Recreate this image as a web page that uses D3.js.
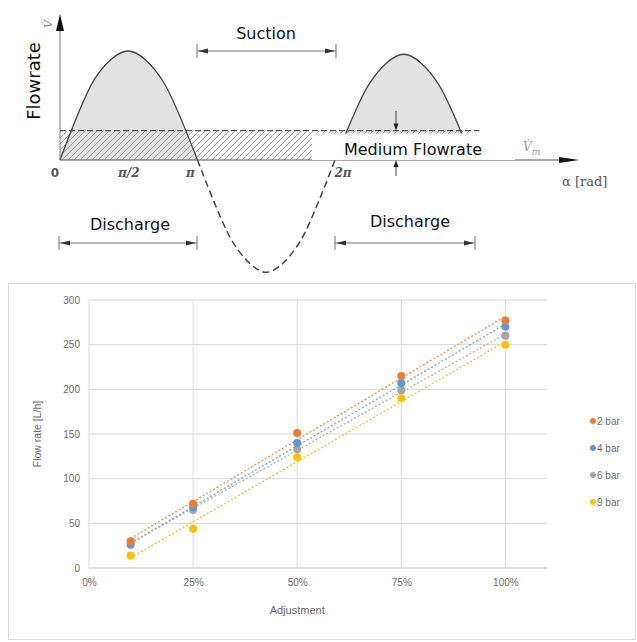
<!DOCTYPE html>
<html>
<head>
<meta charset="utf-8">
<script src="https://cdn.jsdelivr.net/npm/d3@7"></script>
<style>
  body { margin: 0; background: #fff; }
  svg { display: block; }
</style>
</head>
<body>
<div id="chart"></div>
<script>
// top diagram: flow over crank angle (alpha in units of pi, flow relative to peak)
const alphaPts = [0, 0.25, 0.5, 0.75, 1, 1.25, 1.5, 1.75, 2, 2.25, 2.5, 2.75, 3];
const flowPts  = [0, 0.74, 1, 0.72, 0, -0.74, -1.03, -0.74, 0, 0.7, 0.97, 0.7, 0];
const mediumFlow = 0.27;
const alphaTicks = [0, 0.5, 1, 2];
const alphaLabels = ['0', 'π/2', 'π', '2π'];

// bottom chart
const adjustment = [0.10, 0.25, 0.50, 0.75, 1.00];
const bar2 = [30, 72, 151, 215, 277];
const bar4 = [26, 68, 140, 207, 270];
const bar6 = [28, 65, 133, 199, 260];
const bar9 = [14, 44, 124, 190, 250];
const seriesNames = ['2 bar', '4 bar', '6 bar', '9 bar'];
const xTicks = [0, 0.25, 0.5, 0.75, 1];
const yTicks = [0, 50, 100, 150, 200, 250, 300];

const W = 637, H = 642;
const svg = d3.select('#chart').append('svg')
  .attr('width', W).attr('height', H);

const defs = svg.append('defs');
const pat = defs.append('pattern')
  .attr('id', 'hatch')
  .attr('patternUnits', 'userSpaceOnUse')
  .attr('width', 6).attr('height', 6);
pat.append('path')
  .attr('d', 'M-1,7 L7,-1 M-4,4 L4,-4 M2,10 L10,2')
  .attr('stroke', '#888').attr('stroke-width', 0.8);

// ---------- top diagram ----------
const xa = d3.scaleLinear().domain([0, 3]).range([60, 472.5]);
const yf = d3.scaleLinear().domain([0, 1]).range([160, 51]);
const pts = alphaPts.map((a, i) => ({ a: a, f: flowPts[i] }));

const diag = svg.append('g');

const arch = d3.area()
  .x(d => xa(d.a)).y0(yf(0)).y1(d => yf(d.f))
  .curve(d3.curveCardinal.tension(0.1));

diag.append('path')
  .datum(pts.filter(d => d.a <= 1))
  .attr('d', arch).attr('fill', '#e2e2e2');
diag.append('path')
  .datum(pts.filter(d => d.a >= 2))
  .attr('d', arch).attr('fill', '#e2e2e2');

// hatched medium flow band
diag.append('rect')
  .attr('x', xa(0)).attr('y', yf(mediumFlow))
  .attr('width', xa(3) - xa(0)).attr('height', yf(0) - yf(mediumFlow))
  .attr('fill', 'url(#hatch)');
diag.append('line')
  .attr('x1', xa(0)).attr('x2', xa(3.05))
  .attr('y1', yf(mediumFlow)).attr('y2', yf(mediumFlow))
  .attr('stroke', '#555').attr('stroke-width', 1.2)
  .attr('stroke-dasharray', '6,3');

const line = d3.line()
  .x(d => xa(d.a)).y(d => yf(d.f))
  .curve(d3.curveCardinal.tension(0.1));

diag.append('path')
  .datum(pts.filter(d => d.a <= 1))
  .attr('d', line).attr('fill', 'none').attr('stroke', '#444').attr('stroke-width', 1.3);
diag.append('path')
  .datum(pts.filter(d => d.a >= 2))
  .attr('d', line).attr('fill', 'none').attr('stroke', '#444').attr('stroke-width', 1.3);
diag.append('path')
  .datum(pts.filter(d => d.a >= 1 && d.a <= 2))
  .attr('d', line).attr('fill', 'none').attr('stroke', '#444').attr('stroke-width', 1.5)
  .attr('stroke-dasharray', '7,4');

// axes with arrows
diag.append('line')
  .attr('x1', xa(0)).attr('x2', xa(0)).attr('y1', yf(0)).attr('y2', 28)
  .attr('stroke', '#777').attr('stroke-width', 1);
diag.append('path')
  .attr('d', `M${xa(0)},14 L${xa(0) - 4},31 L${xa(0) + 4},31 Z`)
  .attr('fill', '#111');
diag.append('line')
  .attr('x1', xa(0)).attr('x2', 562).attr('y1', yf(0)).attr('y2', yf(0))
  .attr('stroke', '#555').attr('stroke-width', 1);
diag.append('path')
  .attr('d', `M579,${yf(0)} L559,${yf(0) - 3} L559,${yf(0) + 3} Z`)
  .attr('fill', '#111');

// medium flowrate box
diag.append('rect')
  .attr('x', 312).attr('y', yf(mediumFlow) + 3)
  .attr('width', 203).attr('height', yf(0) - yf(mediumFlow) - 3)
  .attr('fill', '#fff');
diag.append('text')
  .attr('x', 413).attr('y', 155)
  .attr('text-anchor', 'middle')
  .attr('font-family', 'DejaVu Sans').attr('font-size', 16).attr('fill', '#111')
  .text('Medium Flowrate');

// small double arrow marking the medium flow height
function arrowHead(g, x, y, dir) {
  g.append('path')
    .attr('d', `M${x},${y} L${x - 2.5},${y - 7 * dir} L${x + 2.5},${y - 7 * dir} Z`)
    .attr('fill', '#222');
}
diag.append('line').attr('x1', 396).attr('x2', 396).attr('y1', 111).attr('y2', 126)
  .attr('stroke', '#444');
arrowHead(diag, 396, yf(mediumFlow), 1);
diag.append('line').attr('x1', 396).attr('x2', 396).attr('y1', 176).attr('y2', 165)
  .attr('stroke', '#444');
arrowHead(diag, 396, yf(0), -1);

// tick labels on alpha axis
alphaTicks.forEach((a, i) => {
  const dx = [ -5, 0, -7, 8 ][i];
  diag.append('text')
    .attr('x', xa(a) + dx).attr('y', 177)
    .attr('text-anchor', 'middle')
    .attr('font-family', i === 0 ? 'DejaVu Sans' : 'DejaVu Serif')
    .attr('font-style', i === 0 ? 'normal' : 'italic')
    .attr('font-weight', 'bold')
    .attr('font-size', 12).attr('fill', '#555')
    .text(alphaLabels[i]);
});

diag.append('text')
  .attr('x', 562).attr('y', 186)
  .attr('font-family', 'DejaVu Serif').attr('font-size', 13).attr('fill', '#555')
  .text('α [rad]');

const vm = diag.append('text')
  .attr('x', 523).attr('y', 151)
  .attr('font-family', 'DejaVu Serif').attr('font-style', 'italic')
  .attr('font-size', 12).attr('fill', '#999');
vm.append('tspan').text('V̇');
vm.append('tspan').attr('dy', 4).attr('font-size', 9).text('m');

diag.append('text')
  .attr('transform', 'translate(52,24) rotate(-90)')
  .attr('text-anchor', 'middle')
  .attr('font-family', 'DejaVu Serif').attr('font-style', 'italic')
  .attr('font-size', 11).attr('fill', '#888')
  .text('V̇');

diag.append('text')
  .attr('transform', 'translate(40,81) rotate(-90)')
  .attr('text-anchor', 'middle')
  .attr('font-family', 'DejaVu Sans').attr('font-size', 18).attr('fill', '#111')
  .text('Flowrate');

// phase spans
function span(g, x1, x2, y) {
  g.append('line').attr('x1', x1).attr('x2', x2).attr('y1', y).attr('y2', y)
    .attr('stroke', '#777').attr('stroke-width', 1);
  [x1, x2].forEach((x, i) => {
    g.append('line').attr('x1', x).attr('x2', x).attr('y1', y - 7).attr('y2', y + 7)
      .attr('stroke', '#888').attr('stroke-width', 1.2);
    const d = i === 0 ? 1 : -1;
    g.append('path')
      .attr('d', `M${x + d},${y} L${x + d * 11},${y - 2.5} L${x + d * 11},${y + 2.5} Z`)
      .attr('fill', '#333');
  });
}
span(diag, 197, 336, 51);
span(diag, 59, 197, 243);
span(diag, 335, 475, 243);

const lbl = (x, y, t) => diag.append('text')
  .attr('x', x).attr('y', y).attr('text-anchor', 'middle')
  .attr('font-family', 'DejaVu Sans').attr('font-size', 16).attr('fill', '#111')
  .text(t);
lbl(266, 39, 'Suction');
lbl(130, 230, 'Discharge');
lbl(410, 227, 'Discharge');

// ---------- bottom chart ----------
const bottom = svg.append('g');
bottom.append('rect')
  .attr('x', 8.5).attr('y', 283.5).attr('width', 627).attr('height', 356)
  .attr('fill', '#fff').attr('stroke', '#d9d9d9');

const x = d3.scaleLinear().domain([0, 1.1]).range([89, 547]);
const y = d3.scaleLinear().domain([0, 300]).range([568, 300]);

bottom.append('g').selectAll('line.h')
  .data(yTicks).enter().append('line')
  .attr('x1', x(0)).attr('x2', x(1.1))
  .attr('y1', d => y(d)).attr('y2', d => y(d))
  .attr('stroke', d => d === 0 ? '#bfbfbf' : '#d9d9d9').attr('stroke-width', 1);
bottom.append('g').selectAll('line.v')
  .data(xTicks).enter().append('line')
  .attr('x1', d => x(d)).attr('x2', d => x(d))
  .attr('y1', y(0)).attr('y2', y(300))
  .attr('stroke', '#d9d9d9').attr('stroke-width', 1);

const yAxis = bottom.append('g')
  .attr('transform', `translate(${x(0) - 6},0)`)
  .call(d3.axisLeft(y).tickValues(yTicks).tickSize(0));
const xAxis = bottom.append('g')
  .attr('transform', `translate(0,${y(0) + 8})`)
  .call(d3.axisBottom(x).tickValues(xTicks).tickSize(0).tickFormat(d3.format('.0%')));
[yAxis, xAxis].forEach(g => {
  g.select('.domain').remove();
  g.selectAll('text')
    .attr('font-family', 'Liberation Sans').attr('font-size', 10).attr('fill', '#6b6b6b');
});

bottom.append('text')
  .attr('transform', `translate(41,${y(150)}) rotate(-90)`)
  .attr('text-anchor', 'middle')
  .attr('font-family', 'Liberation Sans').attr('font-size', 10.5).attr('fill', '#6b6b6b')
  .text('Flow rate [L/h]');
bottom.append('text')
  .attr('x', x(0.5)).attr('y', 614)
  .attr('text-anchor', 'middle')
  .attr('font-family', 'Liberation Sans').attr('font-size', 11).attr('fill', '#6b6b6b')
  .text('Adjustment');

const colors = ['#ED7D31', '#5B9BD5', '#A5A5A5', '#FFC000'];
const series = [bar2, bar4, bar6, bar9];

// linear trendlines
series.forEach((vals, i) => {
  const mx = d3.mean(adjustment), my = d3.mean(vals);
  const sxy = d3.sum(adjustment, (a, k) => (a - mx) * (vals[k] - my));
  const sxx = d3.sum(adjustment, a => (a - mx) * (a - mx));
  const b = sxy / sxx, a0 = my - b * mx;
  const ends = [adjustment[0], adjustment[adjustment.length - 1]];
  bottom.append('line')
    .attr('x1', x(ends[0])).attr('y1', y(a0 + b * ends[0]))
    .attr('x2', x(ends[1])).attr('y2', y(a0 + b * ends[1]))
    .attr('stroke', colors[i]).attr('stroke-width', 1.3)
    .attr('stroke-dasharray', '2,2').attr('opacity', 0.85);
});

// markers, drawn last series first so 2 bar sits on top
for (let i = series.length - 1; i >= 0; i--) {
  bottom.append('g').selectAll('circle')
    .data(series[i]).enter().append('circle')
    .attr('cx', (d, k) => x(adjustment[k]))
    .attr('cy', d => y(d))
    .attr('r', 4)
    .attr('fill', colors[i]);
}

// legend
const leg = bottom.append('g');
seriesNames.forEach((n, i) => {
  const ly = 421 + i * 27;
  leg.append('circle').attr('cx', 593).attr('cy', ly).attr('r', 3).attr('fill', colors[i]);
  leg.append('text').attr('x', 597).attr('y', ly + 3.5)
    .attr('font-family', 'Liberation Sans').attr('font-size', 10).attr('fill', '#6b6b6b')
    .text(n);
});
</script>
</body>
</html>
